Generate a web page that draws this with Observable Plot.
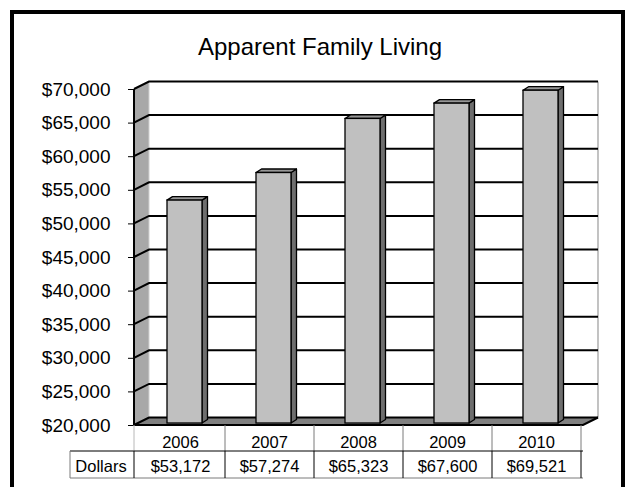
<!DOCTYPE html>
<html><head><meta charset="utf-8">
<script src="https://cdn.jsdelivr.net/npm/d3@7"></script>
<script src="https://cdn.jsdelivr.net/npm/@observablehq/plot@0.6"></script>
<style>
html,body{margin:0;padding:0;background:#fff;}
#wrap{position:relative;width:626px;height:487px;overflow:hidden;background:#fff;font-family:"Liberation Sans",Arial,sans-serif;}
#chart{position:absolute;left:0;top:0;}
#frame{position:absolute;left:10px;top:10px;width:607px;height:520px;border:4px solid #000;border-bottom:none;pointer-events:none;}
#title{position:absolute;left:0;top:33px;width:640px;text-align:center;font-size:24px;line-height:28px;color:#000;}
</style></head><body>
<div id="wrap"><div id="chart"></div><div id="title"></div><div id="frame"></div></div>
<script>
const chartTitle = "Apparent Family Living";
const years = ["2006", "2007", "2008", "2009", "2010"];
const dollars = [53172, 57274, 65323, 67600, 69521];
const rowLabel = "Dollars";
const yTicks = [20000, 25000, 30000, 35000, 40000, 45000, 50000, 55000, 60000, 65000, 70000];

document.getElementById("title").textContent = chartTitle;

const data = years.map((year, i) => ({year, value: dollars[i]}));
const fmt = d3.format("$,");
const WALL = [15, -7.5];   // depth of the wall/floor
const BOFF = [4, -2];      // bar front offset (bars sit mid-depth)
const BDEP = [5.5, -3.5];  // bar depth
const INSET = 27;

const bw = (x) => (x.bandwidth ? x.bandwidth() : 0);

function walls(index, scales, values, dim) {
  const {x, y} = scales;
  const x0 = dim.marginLeft, x1 = dim.width - dim.marginRight;
  const yb = y(yTicks[0]), yt = y(yTicks[yTicks.length - 1]);
  const [dx, dy] = WALL;
  const g = d3.create("svg:g");
  g.append("rect").attr("x", x0 + dx).attr("y", yt + dy).attr("width", x1 - x0).attr("height", yb - yt)
    .attr("fill", "#fff");
  g.append("line").attr("x1", x1 + dx).attr("x2", x1 + dx).attr("y1", yt + dy).attr("y2", yb + dy)
    .attr("stroke", "#9a9a9a").attr("stroke-width", 1.2);
  g.append("path").attr("d", `M${x0},${yt}L${x0 + dx},${yt + dy}L${x0 + dx},${yb + dy}L${x0},${yb}Z`)
    .attr("fill", "#a8a8a8").attr("stroke", "none");
  g.append("line").attr("x1", x0 + dx).attr("x2", x0 + dx).attr("y1", yt + dy).attr("y2", yb + dy)
    .attr("stroke", "#d0d0d0").attr("stroke-width", 1);
  g.append("path").attr("d", `M${x0},${yb}L${x0 + dx},${yb + dy}L${x1 + dx},${yb + dy}L${x1},${yb}Z`)
    .attr("fill", "#808080").attr("stroke", "none");
  for (const t of yTicks) {
    const yy = y(t);
    g.append("path").attr("d", `M${x0},${yy}L${x0 + dx},${yy + dy}L${x1 + dx},${yy + dy}`)
      .attr("fill", "none").attr("stroke", "#000").attr("stroke-width", 2);
  }
  return g.node();
}

function barSides(index, scales, values, dim) {
  const {x, y} = scales;
  const w = bw(x) - 2 * INSET;
  const yb = y(yTicks[0]) + BOFF[1];
  const [dd, dh] = BDEP;
  const g = d3.create("svg:g").attr("stroke", "#000").attr("stroke-width", 1.3).attr("stroke-linejoin", "round");
  data.forEach((d) => {
    const X = x(d.year) + INSET + BOFF[0];
    const Y = y(d.value) + BOFF[1];
    const R = X + w;
    g.append("path").attr("d", `M${R},${Y}L${R + dd},${Y + dh}L${R + dd},${yb + dh}L${R},${yb}Z`).attr("fill", "#6e6e6e");
    g.append("path").attr("d", `M${X},${Y}L${X + dd},${Y + dh}L${R + dd},${Y + dh}L${R},${Y}Z`).attr("fill", "#979797");
  });
  return g.node();
}

function frontEdges(index, scales, values, dim) {
  const {y} = scales;
  const x0 = dim.marginLeft, x1 = dim.width - dim.marginRight;
  const yb = y(yTicks[0]), yt = y(yTicks[yTicks.length - 1]);
  const [dx, dy] = WALL;
  const g = d3.create("svg:g").attr("fill", "none").attr("stroke", "#000");
  g.append("path").attr("d", `M${x0},${yt}L${x0},${yb}L${x1},${yb}L${x1 + dx},${yb + dy}`).attr("stroke-width", 2);
  return g.node();
}

function table(index, scales, values, dim) {
  const {x, y} = scales;
  const b = bw(x);
  const x0 = dim.marginLeft, x1 = dim.width - dim.marginRight;
  const yb = y(yTicks[0]);
  const r1 = yb + 26, r2 = yb + 53;
  const lx = x0 - 64;
  const g = d3.create("svg:g").attr("font-size", 16.5).attr("fill", "#000");
  const light = "#b8b8b8", mid = "#7a7a7a";
  g.append("line").attr("x1", x0).attr("x2", x0).attr("y1", yb).attr("y2", r1).attr("stroke", light);
  years.forEach((yr) => {
    const xr = x(yr) + b;
    g.append("line").attr("x1", xr).attr("x2", xr).attr("y1", yb).attr("y2", r1).attr("stroke", mid);
  });
  g.append("line").attr("x1", lx).attr("x2", x1).attr("y1", r1).attr("y2", r1).attr("stroke", "#000");
  g.append("line").attr("x1", lx).attr("x2", x0).attr("y1", r1).attr("y2", r1).attr("stroke", mid);
  g.append("line").attr("x1", lx).attr("x2", x1).attr("y1", r2).attr("y2", r2).attr("stroke", mid);
  g.append("line").attr("x1", lx).attr("x2", lx).attr("y1", r1).attr("y2", r2).attr("stroke", mid);
  g.append("line").attr("x1", x0).attr("x2", x0).attr("y1", r1).attr("y2", r2).attr("stroke", "#000");
  years.forEach((yr) => {
    const xr = x(yr) + b;
    g.append("line").attr("x1", xr).attr("x2", xr).attr("y1", r1).attr("y2", r2).attr("stroke", "#000");
  });
  years.forEach((yr, i) => {
    const cx = x(yr) + b / 2;
    g.append("text").attr("x", cx).attr("y", r1 - 3.5).attr("text-anchor", "middle").text(yr);
    g.append("text").attr("x", cx).attr("y", r2 - 6.5).attr("text-anchor", "middle").text(fmt(dollars[i]));
  });
  g.append("text").attr("x", (lx + x0) / 2 - 1).attr("y", r2 - 6.5).attr("text-anchor", "middle").text(rowLabel);
  return g.node();
}

const plot = Plot.plot({
  width: 626,
  height: 487,
  marginLeft: 134,
  marginRight: 43,
  marginTop: 89,
  marginBottom: 62,
  style: {fontFamily: "'Liberation Sans', Arial, sans-serif", fontSize: "19px", background: "transparent", color: "#000", overflow: "visible"},
  x: {type: "band", domain: years, padding: 0, axis: null},
  y: {domain: [yTicks[0], yTicks[yTicks.length - 1]], ticks: yTicks, tickFormat: fmt, tickSize: 6, tickPadding: 18, label: null},
  marks: [
    walls,
    barSides,
    Plot.rectY(data, {x: "year", y1: () => yTicks[0], y2: "value", insetLeft: INSET, insetRight: INSET, dx: BOFF[0], dy: BOFF[1], fill: "#c0c0c0", stroke: "#000", strokeWidth: 1.3}),
    frontEdges,
    table
  ]
});
document.getElementById("chart").appendChild(plot);
</script>
</body></html>
